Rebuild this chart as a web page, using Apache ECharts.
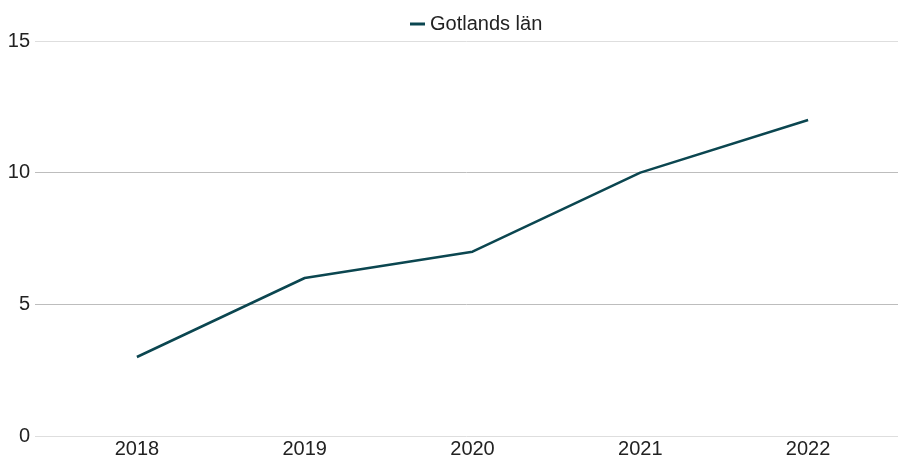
<!DOCTYPE html>
<html><head><meta charset="utf-8">
<script src="https://cdn.jsdelivr.net/npm/echarts@6/dist/echarts.min.js"></script>
<style>html,body{margin:0;padding:0;background:#fff}#c{width:898px;height:455px}</style>
</head><body><div id="c"></div>
<script>
const categories = ['2018','2019','2020','2021','2022'];
const seriesName = 'Gotlands län';
const values = [3, 6, 7, 10, 12];
const yMin = 0, yMax = 15, yStep = 5;

const chart = echarts.init(document.getElementById('c'));
const font = 'Liberation Sans, Arial, sans-serif';
chart.setOption({
  animation: false,
  textStyle: {fontFamily: font},
  legend: {
    top: 9, left: 405,
    icon: 'rect', itemWidth: 15, itemHeight: 3, itemGap: 8,
    textStyle: {fontSize: 20, color: '#222', fontFamily: font},
    data: [seriesName]
  },
  grid: [
    {left: 35, right: 0, top: 41, bottom: 19, containLabel: false, outerBoundsMode: 'none'},
    {left: 53, right: 6, top: 41, bottom: 19, containLabel: false, outerBoundsMode: 'none'}
  ],
  xAxis: [
    {gridIndex: 0, type: 'value', min: 0, max: 1, show: false},
    {gridIndex: 1, type: 'category', data: categories, boundaryGap: true,
     axisLine: {show: false}, axisTick: {show: false},
     axisLabel: {fontSize: 20, color: '#222', margin: 3, fontFamily: font}}
  ],
  yAxis: [
    {gridIndex: 0, type: 'value', min: yMin, max: yMax, interval: yStep,
     axisLine: {show: false}, axisTick: {show: false},
     axisLabel: {fontSize: 20, color: '#222', margin: 5, fontFamily: font},
     splitLine: {show: true, lineStyle: {color: ['#dedede', '#bdbdbd', '#bdbdbd', '#dedede'], width: 1}}},
    {gridIndex: 1, type: 'value', min: yMin, max: yMax, interval: yStep, show: false}
  ],
  series: [{
    name: seriesName, type: 'line', xAxisIndex: 1, yAxisIndex: 1,
    data: values, symbol: 'none',
    lineStyle: {color: '#0b4650', width: 2.5},
    itemStyle: {color: '#0b4650'}
  }]
});
</script></body></html>
